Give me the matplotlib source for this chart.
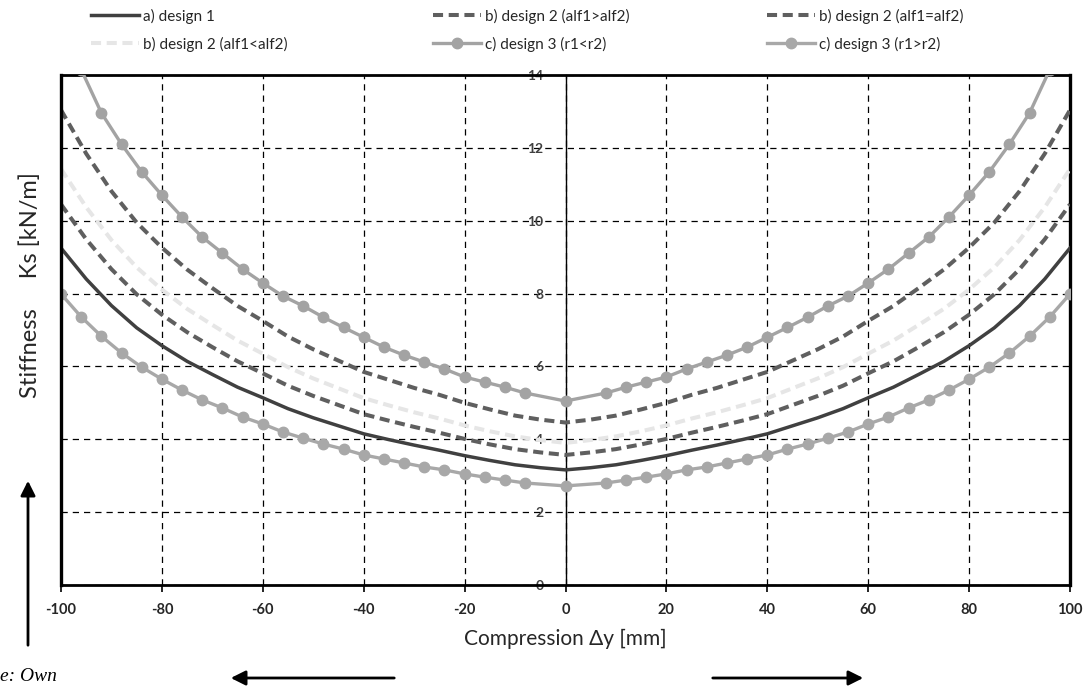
import matplotlib
matplotlib.use("Agg")
import matplotlib.pyplot as plt

plt.rcParams['font.family'] = ['Lato', 'DejaVu Sans']
plt.rcParams['axes.unicode_minus'] = False

# x positions of the smooth (unmarked) curves, mm
x_line = [-100, -95, -90, -85, -80, -75, -70, -65, -60, -55, -50, -45, -40, -35, -30, -25, -20, -15, -10, -5, 0,
          5, 10, 15, 20, 25, 30, 35, 40, 45, 50, 55, 60, 65, 70, 75, 80, 85, 90, 95, 100]

design1 = [9.25, 8.4, 7.67, 7.06, 6.57, 6.14, 5.78, 5.43, 5.14, 4.84, 4.59, 4.37, 4.15, 3.99, 3.84, 3.7, 3.55, 3.42, 3.3, 3.22, 3.16,
           3.22, 3.3, 3.42, 3.55, 3.7, 3.84, 3.99, 4.15, 4.37, 4.59, 4.84, 5.14, 5.43, 5.78, 6.14, 6.57, 7.06, 7.67, 8.4, 9.25]
design2_gt = [13.04, 11.84, 10.81, 9.95, 9.26, 8.66, 8.15, 7.66, 7.25, 6.82, 6.47, 6.16, 5.85, 5.63, 5.41, 5.22, 5.0, 4.82, 4.65, 4.54, 4.46,
              4.54, 4.65, 4.82, 5.0, 5.22, 5.41, 5.63, 5.85, 6.16, 6.47, 6.82, 7.25, 7.66, 8.15, 8.66, 9.26, 9.95, 10.81, 11.84, 13.04]
design2_eq = [10.45, 9.49, 8.67, 7.98, 7.42, 6.94, 6.53, 6.14, 5.81, 5.47, 5.19, 4.94, 4.69, 4.51, 4.34, 4.18, 4.01, 3.86, 3.73, 3.64, 3.57,
              3.64, 3.73, 3.86, 4.01, 4.18, 4.34, 4.51, 4.69, 4.94, 5.19, 5.47, 5.81, 6.14, 6.53, 6.94, 7.42, 7.98, 8.67, 9.49, 10.45]
design2_lt = [11.42, 10.37, 9.47, 8.72, 8.11, 7.58, 7.14, 6.71, 6.35, 5.98, 5.67, 5.4, 5.13, 4.93, 4.74, 4.57, 4.38, 4.22, 4.08, 3.98, 3.9,
              3.98, 4.08, 4.22, 4.38, 4.57, 4.74, 4.93, 5.13, 5.4, 5.67, 5.98, 6.35, 6.71, 7.14, 7.58, 8.11, 8.72, 9.47, 10.37, 11.42]

# x positions of the marked curves (design 3), mm
x_mark = [-100, -96, -92, -88, -84, -80, -76, -72, -68, -64, -60, -56, -52, -48, -44, -40, -36, -32, -28, -24, -20, -16, -12, -8, 0,
          8, 12, 16, 20, 24, 28, 32, 36, 40, 44, 48, 52, 56, 60, 64, 68, 72, 76, 80, 84, 88, 92, 96, 100]
design3_r1_lt = [15.1, 14.15, 12.96, 12.1, 11.34, 10.7, 10.1, 9.55, 9.11, 8.67, 8.29, 7.93, 7.66, 7.35, 7.07, 6.8, 6.53, 6.31, 6.12, 5.93, 5.71, 5.57, 5.43, 5.27, 5.05,
                 5.27, 5.43, 5.57, 5.71, 5.93, 6.12, 6.31, 6.53, 6.8, 7.07, 7.35, 7.66, 7.93, 8.29, 8.67, 9.11, 9.55, 10.1, 10.7, 11.34, 12.1, 12.96, 14.15, 15.1]
design3_r1_gt = [7.99, 7.36, 6.83, 6.37, 5.98, 5.65, 5.35, 5.08, 4.86, 4.61, 4.42, 4.2, 4.03, 3.87, 3.73, 3.57, 3.46, 3.35, 3.24, 3.16, 3.05, 2.96, 2.88, 2.8, 2.72,
                 2.8, 2.88, 2.96, 3.05, 3.16, 3.24, 3.35, 3.46, 3.57, 3.73, 3.87, 4.03, 4.2, 4.42, 4.61, 4.86, 5.08, 5.35, 5.65, 5.98, 6.37, 6.83, 7.36, 7.99]

x_ticks = [-100, -80, -60, -40, -20, 0, 20, 40, 60, 80, 100]
y_ticks = [0, 2, 4, 6, 8, 10, 12, 14]

fig = plt.figure(figsize=(10.86, 6.88), dpi=100)
ax = fig.add_axes([61 / 1086, 103 / 688, 1009 / 1086, 510 / 688])

dash = (0, (2.5, 1.4))
l_a, = ax.plot(x_line, design1, color='#404040', lw=2.5, label='a) design 1', zorder=5)
l_bg, = ax.plot(x_line, design2_gt, color='#5f5f5f', lw=2.9, ls=dash, label='b) design 2 (alf1>alf2)', zorder=5)
l_be, = ax.plot(x_line, design2_eq, color='#5f5f5f', lw=2.9, ls=dash, label='b) design 2 (alf1=alf2)', zorder=5)
l_bl, = ax.plot(x_line, design2_lt, color='#e6e6e6', lw=2.9, ls=dash, label='b) design 2 (alf1<alf2)', zorder=4)
l_c1, = ax.plot(x_mark, design3_r1_lt, color='#a3a3a3', lw=2.4, marker='o', ms=7.5,
                label='c) design 3 (r1<r2)', zorder=6)
l_c2, = ax.plot(x_mark, design3_r1_gt, color='#a8a8a8', lw=2.4, marker='o', ms=7.5,
                label='c) design 3 (r1>r2)', zorder=6)

ax.set_xlim(-100, 100)
ax.set_ylim(0, 14)
ax.set_xticks(x_ticks)
ax.set_yticks(y_ticks)
ax.grid(True, color='black', lw=0.9, ls=(0, (5, 4)), zorder=1)

# y axis crosses at x = 0
ax.spines['left'].set_position(('data', 0))
ax.spines['left'].set_linewidth(1.0)
ax.spines['left'].set_zorder(3)
for s in ['top', 'bottom']:
    ax.spines[s].set_linewidth(2.0)
ax.spines['right'].set_linewidth(2.4)
ax.axvline(-100, color='black', lw=2.4, zorder=7, clip_on=False)

ax.tick_params(axis='y', length=0, pad=16, labelsize=10, labelcolor='#404040')
ax.tick_params(axis='x', length=5, width=1.2, direction='out', pad=8, labelsize=10.5, labelcolor='#262626')
for t in ax.get_yticklabels() + ax.get_xticklabels():
    t.set_fontweight('bold')

fig.text(0.521, 0.072, 'Compression Δy [mm]', ha='center', va='center', fontsize=15, color='#262626')
fig.text(0.028, 0.585, 'Stiffness     Ks [kN/m]', ha='center', va='center', rotation=90, fontsize=17, color='#262626')
fig.text(0.0, 0.004, 'e: Own', ha='left', va='bottom', fontsize=14, style='italic',
         family=['Liberation Serif', 'DejaVu Serif'])

# arrows
arrow = dict(arrowstyle='-|>', lw=2, color='black', mutation_scale=22)
fig.add_artist(plt.Annotation('', xy=(28 / 1086, 210 / 688), xytext=(28 / 1086, 40 / 688),
                              xycoords='figure fraction', textcoords='figure fraction', arrowprops=arrow))
fig.add_artist(plt.Annotation('', xy=(228 / 1086, 10 / 688), xytext=(397 / 1086, 10 / 688),
                              xycoords='figure fraction', textcoords='figure fraction', arrowprops=arrow))
fig.add_artist(plt.Annotation('', xy=(866 / 1086, 10 / 688), xytext=(710 / 1086, 10 / 688),
                              xycoords='figure fraction', textcoords='figure fraction', arrowprops=arrow))

# legend, three columns of two rows
cols = [([l_a, l_bl], 86), ([l_bg, l_c1], 428), ([l_be, l_c2], 762)]
for hs, xp in cols:
    fig.legend(handles=hs, labels=[h.get_label() for h in hs], loc='upper left',
               bbox_to_anchor=(xp / 1086, 1.0 - 4 / 688), frameon=False, fontsize=11,
               handlelength=3.2, handletextpad=0.2, labelspacing=0.85, numpoints=1,
               borderaxespad=0, borderpad=0.3, labelcolor='#262626')

fig.savefig('out.png', dpi=100)
